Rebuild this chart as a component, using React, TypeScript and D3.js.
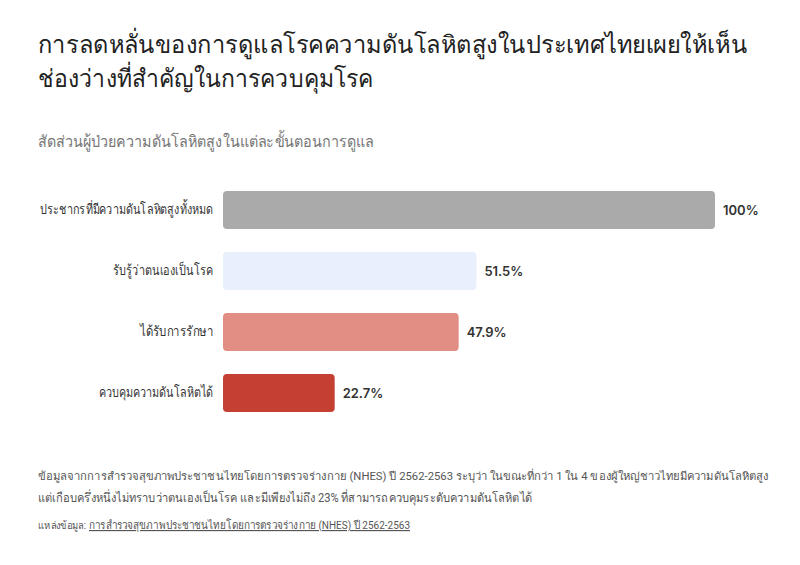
import { useEffect, useRef } from "react";
import * as d3 from "d3";

const categories = [
    "ประชากรที่มีความดันโลหิตสูงทั้งหมด",
    "รับรู้ว่าตนเองเป็นโรค",
    "ได้รับการรักษา",
    "ควบคุมความดันโลหิตได้",
];
const values = [100, 51.5, 47.9, 22.7];
const valueLabels = ["100%", "51.5%", "47.9%", "22.7%"];
const colors = ["#aaaaaa", "#e8f0fe", "#e28e84", "#c53f32"];
// widths of the Thai category labels, to match the narrow font of the original
const labelWidths = [173, 100, 73, 114];

const width = 800;
const height = 565;
const marginLeft = 223;
const marginRight = 85;
const barTop = 191;
const barBottom = 412;

const fit = { lengthAdjust: "spacingAndGlyphs" } as const;

const App = () => {
    const refYAxis = useRef(null);

    const xScale = d3
        .scaleLinear()
        .domain([0, 100])
        .range([marginLeft, width - marginRight]);

    const yScale = d3
        .scaleBand()
        .domain(categories)
        .range([barTop - 23 * 0.5, barBottom + 23 * 0.5])
        .paddingInner(0.375)
        .paddingOuter(0.1875);

    useEffect(() => {
        const yAxis = d3.axisLeft(yScale).tickSize(0).tickPadding(10);
        const g = d3.select(refYAxis.current);
        g.call(yAxis);
        g.select(".domain").remove();
        g.selectAll("text")
            .attr("font-size", 14)
            .attr("fill", "#333")
            .attr("font-family", "serif")
            .attr("textLength", (d, i) => labelWidths[i])
            .attr("lengthAdjust", "spacingAndGlyphs");
    }, []);

    return (
        <svg width={width} height={height} style={{ display: "block", margin: -8 }}>
            <rect width={width} height={height} fill="#fff" />
            <text x={38} y={53} fontSize={24.5} fill="#222" fontFamily="serif" textLength={709} {...fit}>
                การลดหลั่นของการดูแลโรคความดันโลหิตสูงในประเทศไทยเผยให้เห็น
            </text>
            <text x={38} y={87} fontSize={24.5} fill="#222" fontFamily="serif" textLength={335} {...fit}>
                ช่องว่างที่สำคัญในการควบคุมโรค
            </text>
            <text x={38} y={147} fontSize={16} fill="#777" fontFamily="serif" textLength={336} {...fit}>
                สัดส่วนผู้ป่วยความดันโลหิตสูงในแต่ละขั้นตอนการดูแล
            </text>

            <g className="bars">
                {categories.map((c, i) => (
                    <g key={c}>
                        <rect
                            x={xScale(0)}
                            y={yScale(c)}
                            width={xScale(values[i]) - xScale(0)}
                            height={yScale.bandwidth()}
                            rx={4}
                            fill={colors[i]}
                        />
                        <text
                            x={xScale(values[i]) + 8}
                            y={(yScale(c) ?? 0) + yScale.bandwidth() / 2}
                            dy="0.35em"
                            fontSize={13}
                            fontWeight={600}
                            fill="#333"
                            fontFamily="Inter, sans-serif"
                        >
                            {valueLabels[i]}
                        </text>
                    </g>
                ))}
            </g>
            <g ref={refYAxis} transform={`translate(${marginLeft},0)`}></g>

            <g fontFamily="Roboto, sans-serif" fill="#555">
                <text x={38} y={480} fontSize={11.2} textLength={730} {...fit}>
                    ข้อมูลจากการสำรวจสุขภาพประชาชนไทยโดยการตรวจร่างกาย (NHES) ปี 2562-2563 ระบุว่า ในขณะที่กว่า 1 ใน 4 ของผู้ใหญ่ชาวไทยมีความดันโลหิตสูง
                </text>
                <text x={38} y={502} fontSize={12.5} textLength={494} {...fit}>
                    แต่เกือบครึ่งหนึ่งไม่ทราบว่าตนเองเป็นโรค และมีเพียงไม่ถึง 23% ที่สามารถควบคุมระดับความดันโลหิตได้
                </text>
                <text x={38} y={529} fontSize={10.5} textLength={48} {...fit}>
                    แหล่งข้อมูล:
                </text>
                <text x={89} y={529} fontSize={11.5} textLength={321} textDecoration="underline" {...fit}>
                    การสำรวจสุขภาพประชาชนไทยโดยการตรวจร่างกาย (NHES) ปี 2562-2563
                </text>
            </g>
        </svg>
    );
};

export default App;
